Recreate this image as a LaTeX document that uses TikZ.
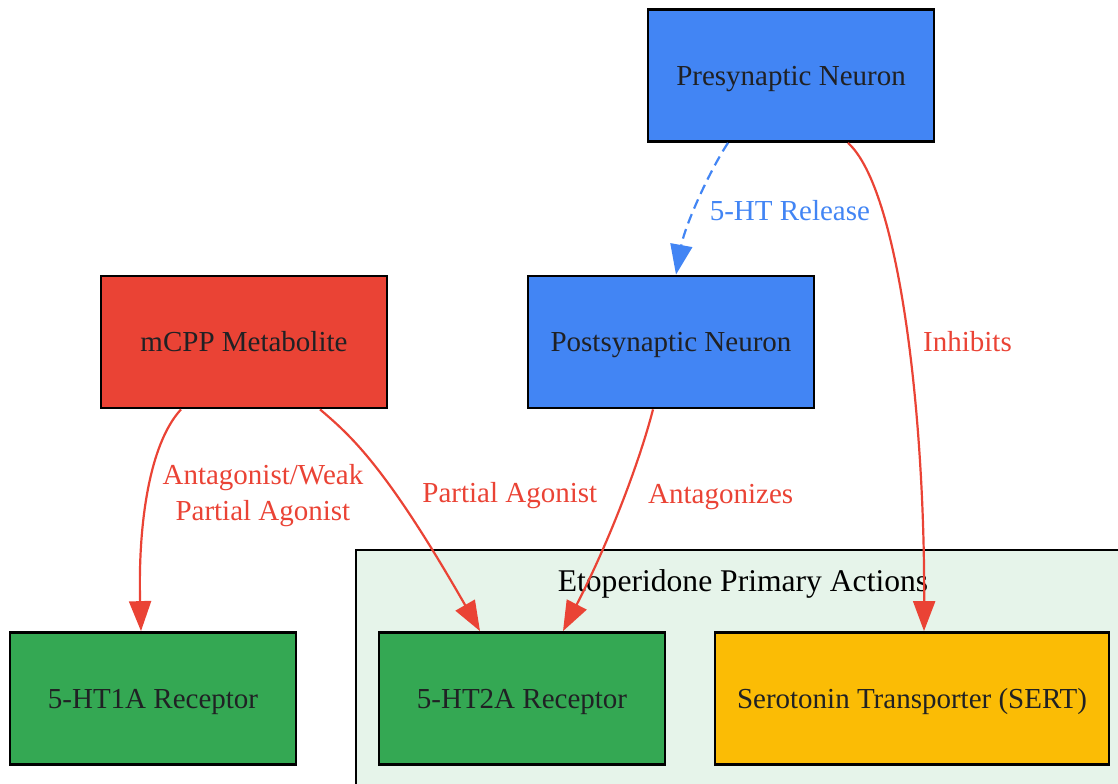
\documentclass[tikz,border=0pt]{standalone}
\usepackage{fontspec}
\setmainfont{Liberation Serif}
\usetikzlibrary{arrows.meta}
\definecolor{gblue}{HTML}{4285F4}
\definecolor{gred}{HTML}{EA4335}
\definecolor{ggreen}{HTML}{34A853}
\definecolor{gyellow}{HTML}{FBBC05}
\definecolor{clusterfill}{HTML}{E6F4EA}
\definecolor{ink}{HTML}{202124}

\begin{document}
\begin{tikzpicture}[x=0.5pt,y=-0.5pt,
	box/.style={draw=black,line width=1.4pt,rectangle,minimum width=143pt,minimum height=66pt,inner sep=0,text height=0.95em,text depth=0pt,text=ink,font=\fontsize{14.5}{17}\selectfont},
	link/.style={line width=1.1pt,-{Triangle[length=15pt,width=11pt]}},
	lbl/.style={font=\fontsize{14.5}{18}\selectfont,inner sep=1pt}]
	\useasboundingbox (0,0) rectangle (1118,783);
	% cluster
	\fill[clusterfill] (356,550) rectangle (1130,800);
	\draw[line width=1pt] (356,800) -- (356,550) -- (1130,550);
	\node[font=\fontsize{15.8}{18}\selectfont] (title) at (743,584) {Etoperidone Primary Actions};
	% nodes
	\node[box,fill=gblue] (pre) at (791,75.5) {Presynaptic Neuron};
	\node[box,fill=gred] (mcpp) at (244,342) {mCPP Metabolite};
	\node[box,fill=gblue] (post) at (671,342) {Postsynaptic Neuron};
	\node[box,fill=ggreen] (ht1a) at (153,698.5) {5-HT1A Receptor};
	\node[box,fill=ggreen] (ht2a) at (522,698.5) {5-HT2A Receptor};
	\node[box,fill=gyellow,minimum width=197pt] (sert) at (912,698.5) {Serotonin Transporter (SERT)};
	% edges
	\draw[link,gblue,dash pattern=on 5pt off 3pt] ([xshift=-31.5pt]pre.south) .. controls (710,170) and (685,225) .. ([xshift=2.5pt]post.north)
		node[lbl,pos=0.57,right=6pt] {5-HT Release};
	\draw[link,gred] ([xshift=28.5pt]pre.south) .. controls (900,190) and (925,420) .. ([xshift=6pt]sert.north)
		node[lbl,pos=0.53,right=6pt] {Inhibits};
	\draw[link,gred] ([xshift=-31.5pt]mcpp.south) .. controls (148,445) and (138,530) .. ([xshift=-6pt]ht1a.north)
		node[lbl,align=center,pos=0.5,right=6pt] {Antagonist/Weak\\Partial Agonist};
	\draw[link,gred] ([xshift=38pt]mcpp.south) .. controls (350,435) and (385,465) .. ([xshift=-21pt]ht2a.north)
		node[lbl,pos=0.6,right=14pt,yshift=-3.5pt] {Partial Agonist};
	\draw[link,gred] ([xshift=-9pt]post.south) .. controls (640,460) and (610,540) .. ([xshift=20.5pt]ht2a.north)
		node[lbl,pos=0.45,right=10pt,yshift=-1.5pt] {Antagonizes};
\end{tikzpicture}
\end{document}
